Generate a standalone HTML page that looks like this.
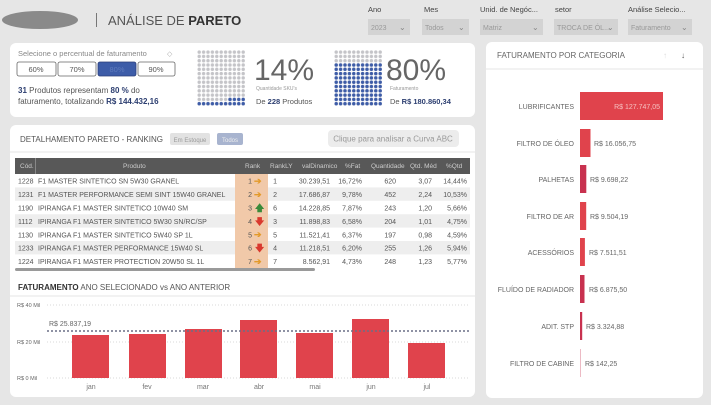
<!DOCTYPE html>
<html><head><meta charset="utf-8"><style>
body{margin:0;background:#e6e6e6;}
svg{display:block;font-family:"Liberation Sans",sans-serif;}
</style></head><body>
<svg width="711" height="405" viewBox="0 0 711 405" xmlns="http://www.w3.org/2000/svg">
<defs>
<pattern id="pg" x="197" y="50" width="4.4" height="4.3" patternUnits="userSpaceOnUse"><circle cx="2.2" cy="2.1" r="1.7" fill="#c4c4c8"/></pattern>
<pattern id="pb" x="197" y="50" width="4.4" height="4.3" patternUnits="userSpaceOnUse"><circle cx="2.2" cy="2.1" r="1.7" fill="#3d5ca8"/></pattern>
<pattern id="pg2" x="334" y="50" width="4.4" height="4.3" patternUnits="userSpaceOnUse"><circle cx="2.2" cy="2.1" r="1.7" fill="#c4c4c8"/></pattern>
<pattern id="pb2" x="334" y="50" width="4.4" height="4.3" patternUnits="userSpaceOnUse"><circle cx="2.2" cy="2.1" r="1.7" fill="#3d5ca8"/></pattern>
</defs>
<rect width="711" height="405" fill="#e6e6e6"/>
<ellipse cx="40" cy="20" rx="38" ry="9" fill="#8a8a8a"/>
<rect x="96" y="13" width="1" height="14" fill="#777"/>
<text x="108" y="25" font-size="13" fill="#555">ANÁLISE DE <tspan font-weight="bold" fill="#333">PARETO</tspan></text>
<g font-size="7.5" fill="#444">
<text x="368" y="12">Ano</text><text x="424" y="12">Mes</text><text x="480" y="12">Unid. de Negóc...</text><text x="555" y="12">setor</text><text x="628" y="12">Análise Selecio...</text>
</g>
<g fill="#d3d3d3"><rect x="368" y="19" width="42" height="16"/><rect x="422" y="19" width="47" height="16"/><rect x="480" y="19" width="63" height="16"/><rect x="554" y="19" width="64" height="16"/><rect x="628" y="19" width="64" height="16"/></g>
<g font-size="7" fill="#999"><text x="371" y="30">2023</text><text x="425" y="30">Todos</text><text x="483" y="30">Matriz</text><text x="557" y="30">TROCA DE ÓL...</text><text x="631" y="30">Faturamento</text></g>
<g font-size="8" fill="#888"><text x="399" y="30">⌄</text><text x="458" y="30">⌄</text><text x="532" y="30">⌄</text><text x="607" y="30">⌄</text><text x="681" y="30">⌄</text></g>
<rect x="10" y="43" width="465" height="74" rx="6" fill="#fff"/>
<text x="18" y="56" font-size="7.5" fill="#888">Selecione o percentual de faturamento</text>
<text x="167" y="56" font-size="7" fill="#aaa">◇</text>
<g fill="#fff" stroke="#666" stroke-width="0.8"><rect x="17" y="62" width="39" height="14" rx="2"/><rect x="58" y="62" width="38" height="14" rx="2"/><rect x="138" y="62" width="37" height="14" rx="2"/></g>
<rect x="98" y="62" width="38" height="14" rx="2" fill="#3d5ca8" stroke="#2d3f7a" stroke-width="0.8"/>
<g font-size="7.5" fill="#555" text-anchor="middle"><text x="36" y="72">60%</text><text x="77" y="72">70%</text><text x="117" y="72" fill="#5f7bbd">80%</text><text x="156" y="72">90%</text></g>
<text x="18" y="93" font-size="8" fill="#555"><tspan font-weight="bold" fill="#2c3e70">31</tspan> Produtos representam <tspan font-weight="bold" fill="#2c3e70">80 %</tspan> do</text>
<text x="18" y="104" font-size="8" fill="#555">faturamento, totalizando <tspan font-weight="bold" fill="#2c3e70">R$ 144.432,16</tspan></text>
<rect x="197" y="50" width="48.4" height="55.9" fill="url(#pg)"/>
<rect x="197" y="101.6" width="48.4" height="4.3" fill="url(#pb)"/>
<rect x="227.8" y="97.3" width="17.6" height="4.3" fill="url(#pb)"/>
<text x="254" y="80" font-size="30" fill="#666">14%</text>
<text x="256" y="90" font-size="5" fill="#999">Quantidade SKU's</text>
<text x="256" y="104" font-size="7.5" fill="#555">De <tspan font-weight="bold" fill="#2c3e70">228</tspan> Produtos</text>
<rect x="334" y="50" width="48.4" height="55.9" fill="url(#pg2)"/>
<rect x="334" y="63" width="48.4" height="42.9" fill="url(#pb2)"/>
<text x="386" y="80" font-size="30" fill="#666">80%</text>
<text x="390" y="90" font-size="5" fill="#999">Faturamento</text>
<text x="390" y="104" font-size="7.5" fill="#555">De <tspan font-weight="bold" fill="#2c3e70">R$ 180.860,34</tspan></text>
<rect x="10" y="125" width="465" height="272" rx="6" fill="#fff"/>
<line x1="10" y1="152" x2="475" y2="152" stroke="#e4e4e4"/>
<text x="20" y="142" font-size="8" fill="#555">DETALHAMENTO PARETO - RANKING</text>
<rect x="170" y="133" width="40" height="12" rx="2" fill="#e2e2e2"/><text x="190" y="142" font-size="6" fill="#999" text-anchor="middle">Em Estoque</text>
<rect x="217" y="133" width="26" height="12" rx="2" fill="#a8b4cf"/><text x="230" y="142" font-size="6" fill="#eee" text-anchor="middle">Todos</text>
<rect x="328" y="130" width="131" height="17" rx="4" fill="#ececec"/><text x="393" y="141.5" font-size="8" fill="#999" text-anchor="middle">Clique para analisar a Curva ABC</text>
<rect x="15" y="158" width="455" height="16" fill="#585858"/>
<rect x="35" y="158" width="1" height="16" fill="#888"/>
<g font-size="6.5" fill="#ccc"><text x="20" y="168">Cód.</text><text x="123" y="168">Produto</text><text x="245" y="168">Rank</text><text x="270" y="168">RankLY</text><text x="302" y="168">valDinamico</text><text x="345" y="168">%Fat</text><text x="371" y="168">Quantidade</text><text x="410" y="168">Qtd. Méd</text><text x="446" y="168">%Qtd</text></g>
<g fill="#eeeeee"><rect x="15" y="187.4" width="455" height="13.4"/><rect x="15" y="214.2" width="455" height="13.4"/><rect x="15" y="241" width="455" height="13.4"/></g>
<rect x="235" y="174" width="33" height="94" fill="#f1c9a9"/>
<g font-size="7" fill="#555">
<text x="18" y="183.7">1228</text><text x="38" y="183.7">F1 MASTER SINTETICO SN 5W30 GRANEL</text>
<text x="18" y="197.1">1231</text><text x="38" y="197.1">F1 MASTER PERFORMANCE SEMI SINT 15W40 GRANEL</text>
<text x="18" y="210.5">1190</text><text x="38" y="210.5">IPIRANGA F1 MASTER SINTETICO 10W40 SM</text>
<text x="18" y="223.9">1112</text><text x="38" y="223.9">IPIRANGA F1 MASTER SINTETICO 5W30 SN/RC/SP</text>
<text x="18" y="237.3">1130</text><text x="38" y="237.3">IPIRANGA F1 MASTER SINTETICO 5W40 SP 1L</text>
<text x="18" y="250.7">1233</text><text x="38" y="250.7">IPIRANGA F1 MASTER PERFORMANCE 15W40 SL</text>
<text x="18" y="264.1">1224</text><text x="38" y="264.1">IPIRANGA F1 MASTER PROTECTION 20W50 SL 1L</text>
</g>
<g font-size="7" fill="#555" text-anchor="end">
<text x="252" y="183.7">1</text><text x="252" y="197.1">2</text><text x="252" y="210.5">3</text><text x="252" y="223.9">4</text><text x="252" y="237.3">5</text><text x="252" y="250.7">6</text><text x="252" y="264.1">7</text>
<text x="277" y="183.7">1</text><text x="277" y="197.1">2</text><text x="277" y="210.5">6</text><text x="277" y="223.9">3</text><text x="277" y="237.3">5</text><text x="277" y="250.7">4</text><text x="277" y="264.1">7</text>
<text x="330" y="183.7">30.239,51</text><text x="330" y="197.1">17.686,87</text><text x="330" y="210.5">14.228,85</text><text x="330" y="223.9">11.898,83</text><text x="330" y="237.3">11.521,41</text><text x="330" y="250.7">11.218,51</text><text x="330" y="264.1">8.562,91</text>
<text x="362" y="183.7">16,72%</text><text x="362" y="197.1">9,78%</text><text x="362" y="210.5">7,87%</text><text x="362" y="223.9">6,58%</text><text x="362" y="237.3">6,37%</text><text x="362" y="250.7">6,20%</text><text x="362" y="264.1">4,73%</text>
<text x="396" y="183.7">620</text><text x="396" y="197.1">452</text><text x="396" y="210.5">243</text><text x="396" y="223.9">204</text><text x="396" y="237.3">197</text><text x="396" y="250.7">255</text><text x="396" y="264.1">248</text>
<text x="432" y="183.7">3,07</text><text x="432" y="197.1">2,24</text><text x="432" y="210.5">1,20</text><text x="432" y="223.9">1,01</text><text x="432" y="237.3">0,98</text><text x="432" y="250.7">1,26</text><text x="432" y="264.1">1,23</text>
<text x="467" y="183.7">14,44%</text><text x="467" y="197.1">10,53%</text><text x="467" y="210.5">5,66%</text><text x="467" y="223.9">4,75%</text><text x="467" y="237.3">4,59%</text><text x="467" y="250.7">5,94%</text><text x="467" y="264.1">5,77%</text>
</g>
<g font-size="9" font-weight="bold">
<text x="254" y="184" fill="#e39a2a">➔</text><text x="254" y="197.5" fill="#e39a2a">➔</text><text x="255" y="211" fill="#3a8a3a">🡅</text><text x="255" y="224.3" fill="#d9392e">🡇</text><text x="254" y="237.7" fill="#e39a2a">➔</text><text x="255" y="251" fill="#d9392e">🡇</text><text x="254" y="264.5" fill="#e39a2a">➔</text>
</g>
<rect x="15" y="268" width="300" height="3" rx="1.5" fill="#9a9a9a"/>
<line x1="10" y1="296" x2="475" y2="296" stroke="#e4e4e4"/>
<text x="18" y="290" font-size="8" fill="#555"><tspan font-weight="bold" fill="#333">FATURAMENTO</tspan> ANO SELECIONADO vs ANO ANTERIOR</text>
<g font-size="5.5" fill="#666"><text x="17" y="307">R$ 40 Mil</text><text x="17" y="344">R$ 20 Mil</text><text x="17" y="380">R$ 0 Mil</text></g>
<g stroke="#ccc" stroke-dasharray="1,2" stroke-width="0.7"><line x1="47" y1="305" x2="470" y2="305"/><line x1="47" y1="342" x2="470" y2="342"/><line x1="47" y1="378" x2="470" y2="378"/></g>
<g fill="#e0434c">
<rect x="72" y="335" width="37" height="43"/><rect x="129" y="334" width="37" height="44"/><rect x="185" y="329" width="37" height="49"/><rect x="240" y="320" width="37" height="58"/><rect x="296" y="333" width="37" height="45"/><rect x="352" y="319" width="37" height="59"/><rect x="408" y="343" width="37" height="35"/>
</g>
<line x1="47" y1="331" x2="470" y2="331" stroke="#6a6f85" stroke-width="1.5" stroke-dasharray="2,2"/>
<text x="49" y="326" font-size="7" fill="#666">R$ 25.837,19</text>
<g font-size="7" fill="#777" text-anchor="middle"><text x="91" y="389">jan</text><text x="147" y="389">fev</text><text x="203" y="389">mar</text><text x="259" y="389">abr</text><text x="315" y="389">mai</text><text x="371" y="389">jun</text><text x="427" y="389">jul</text></g>
<rect x="486" y="42" width="217" height="356" rx="6" fill="#fff"/>
<line x1="486" y1="69" x2="703" y2="69" stroke="#e4e4e4"/>
<text x="497" y="58" font-size="8" fill="#666">FATURAMENTO POR CATEGORIA</text>
<text x="663" y="58" font-size="8" fill="#ddd">↑</text><text x="681" y="58" font-size="8" fill="#555">↓</text>
<g font-size="7" fill="#666" text-anchor="end">
<text x="574" y="109">LUBRIFICANTES</text><text x="574" y="146">FILTRO DE ÓLEO</text><text x="574" y="182">PALHETAS</text><text x="574" y="219">FILTRO DE AR</text><text x="574" y="255">ACESSÓRIOS</text><text x="574" y="292">FLUÍDO DE RADIADOR</text><text x="574" y="329">ADIT. STP</text><text x="574" y="366">FILTRO DE CABINE</text>
</g>
<rect x="580" y="92" width="83" height="28" fill="#e0434c"/>
<rect x="580" y="129" width="10.5" height="28" fill="#e0434c"/>
<rect x="580" y="165" width="6.3" height="28" fill="#c8314f"/>
<rect x="580" y="202" width="6.2" height="28" fill="#e0434c"/>
<rect x="580" y="238" width="4.9" height="28" fill="#e0434c"/>
<rect x="580" y="275" width="4.5" height="28" fill="#c8314f"/>
<rect x="580" y="312" width="2.2" height="28" fill="#c8314f"/>
<rect x="580" y="349" width="0.8" height="28" fill="#e8aab5"/>
<g font-size="7" fill="#666">
<text x="660" y="109" fill="#f6c0c0" text-anchor="end">R$ 127.747,05</text>
<text x="594" y="146">R$ 16.056,75</text><text x="590" y="182">R$ 9.698,22</text><text x="590" y="219">R$ 9.504,19</text><text x="589" y="255">R$ 7.511,51</text><text x="589" y="292">R$ 6.875,50</text><text x="586" y="329">R$ 3.324,88</text><text x="585" y="366">R$ 142,25</text>
</g>
</svg>
</body></html>
